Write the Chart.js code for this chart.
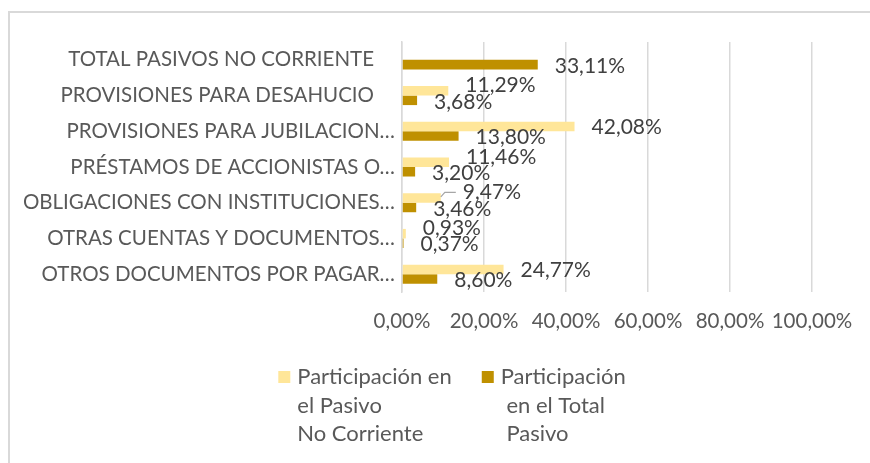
<!DOCTYPE html>
<html lang="es">
<head>
<meta charset="utf-8">
<title>Participación de los Pasivos No Corrientes</title>
<script src="https://cdn.jsdelivr.net/npm/chart.js@4.4.1/dist/chart.umd.min.js"></script>
<style>
  html, body { margin: 0; padding: 0; background: #ffffff; }
  #wrap { position: relative; width: 870px; height: 463px; }
</style>
</head>
<body>
<div id="wrap"><canvas id="chart" width="870" height="463"></canvas></div>
<script>
// Cuentas del pasivo no corriente (orden de arriba hacia abajo)
const categories = [
  "TOTAL PASIVOS NO CORRIENTE    ",
  "PROVISIONES PARA DESAHUCIO    ",
  "PROVISIONES PARA JUBILACION…",
  "PRÉSTAMOS DE ACCIONISTAS O…",
  "OBLIGACIONES CON INSTITUCIONES…",
  "OTRAS CUENTAS Y DOCUMENTOS…",
  "OTROS DOCUMENTOS POR PAGAR…"
];

// Participación en el Pasivo No Corriente (%)
const pasivoNoCorriente = [null, 11.29, 42.08, 11.46, 9.47, 0.93, 24.77];

// Participación en el Total Pasivo (%)
const totalPasivo = [33.11, 3.68, 13.80, 3.20, 3.46, 0.37, 8.60];

// Marcas del eje de valores (%)
const axisTicks = [0, 20, 40, 60, 80, 100];

const seriesNames = [
  "Participación en el Pasivo No Corriente",
  "Participación en el Total Pasivo"
];
const legendLines = [
  ["Participación en", "el Pasivo", "No Corriente"],
  ["Participación", " en el Total", " Pasivo"]
];

const FONT = "Lato, 'Open Sans', sans-serif";
const AXIS_SIZE = 20.5;
const LABEL_SIZE = 21;
const LEGEND_SIZE = 22;
const TEXT = "#595959";
const LABEL_TEXT = "#404040";
const GRID = "#D9D9D9";

const pct = v => v.toFixed(2).replace(".", ",") + "%";

// Ajustes manuales de etiquetas: "dataset:índice"
const labelNudges = { "0:4": { dx: 5, leader: true } };

// Marco del gráfico y fondo
const framePlugin = {
  id: "frame",
  beforeDraw(chart) {
    const ctx = chart.ctx;
    ctx.save();
    ctx.fillStyle = "#ffffff";
    ctx.fillRect(0, 0, chart.width, chart.height);
    ctx.strokeStyle = GRID;
    ctx.lineWidth = 2;
    ctx.beginPath();
    ctx.moveTo(9, chart.height);
    ctx.lineTo(9, 12);
    ctx.lineTo(chart.width, 12);
    ctx.stroke();
    ctx.restore();
  }
};

// Etiquetas de datos al final de cada barra
const valueLabels = {
  id: "valueLabels",
  afterDatasetsDraw(chart) {
    const ctx = chart.ctx;
    ctx.save();
    ctx.font = `${LABEL_SIZE}px ${FONT}`;
    ctx.fillStyle = LABEL_TEXT;
    ctx.textAlign = "left";
    ctx.textBaseline = "middle";
    const gap = 17;
    const m0 = chart.getDatasetMeta(0);
    const m1 = chart.getDatasetMeta(1);
    const n = chart.data.labels.length;
    for (let i = 0; i < n; i++) {
      const v0 = chart.data.datasets[0].data[i];
      const v1 = chart.data.datasets[1].data[i];
      const b0 = m0.data[i], b1 = m1.data[i];
      let x0 = null, x1 = null, y0 = null, y1 = null;
      if (v0 != null) { x0 = b0.x + gap; y0 = b0.y + 1; }
      if (v1 != null) { x1 = b1.x + gap; y1 = b1.y + 1.5; }
      if (v0 != null && v1 != null) {
        const w0 = ctx.measureText(pct(v0)).width;
        const w1 = ctx.measureText(pct(v1)).width;
        const overlap = x0 < x1 + w1 && x1 < x0 + w0;
        if (overlap) y0 = b0.y - 5.5;
      }
      const items = [[0, v0, x0, y0, b0], [1, v1, x1, y1, b1]];
      for (const [d, v, x, y, bar] of items) {
        if (v == null) continue;
        const nudge = labelNudges[d + ":" + i];
        let lx = x, ly = y;
        if (nudge) {
          lx += nudge.dx || 0;
          ly += nudge.dy || 0;
          if (nudge.leader) {
            ctx.save();
            ctx.strokeStyle = "#A6A6A6";
            ctx.lineWidth = 1.2;
            ctx.beginPath();
            ctx.moveTo(bar.x, bar.y - 1);
            ctx.lineTo(bar.x + 4, ly);
            ctx.lineTo(lx - 7, ly);
            ctx.stroke();
            ctx.restore();
          }
        }
        ctx.fillText(pct(v), lx, ly);
      }
    }
    ctx.restore();
  }
};

// Leyenda inferior con texto en varias líneas
const wrappedLegend = {
  id: "wrappedLegend",
  afterDraw(chart, args, opts) {
    const ctx = chart.ctx;
    ctx.save();
    ctx.font = `${LEGEND_SIZE}px ${FONT}`;
    ctx.textBaseline = "middle";
    ctx.textAlign = "left";
    const box = 12, boxGap = 7, itemGap = 30, lineH = 28.5;
    const widths = legendLines.map(lines =>
      box + boxGap + Math.max(...lines.map(l => ctx.measureText(l).width)));
    const total = widths.reduce((a, b) => a + b, 0) + itemGap * (widths.length - 1);
    let x = opts.centerX - total / 2;
    chart.data.datasets.forEach((ds, k) => {
      ctx.fillStyle = ds.backgroundColor;
      ctx.fillRect(x, opts.top - box / 2, box, box);
      ctx.fillStyle = TEXT;
      legendLines[k].forEach((line, j) => {
        ctx.fillText(line, x + box + boxGap, opts.top + j * lineH);
      });
      x += widths[k] + itemGap;
    });
    ctx.restore();
  }
};

new Chart(document.getElementById("chart"), {
  type: "bar",
  data: {
    labels: categories,
    datasets: [
      {
        label: seriesNames[0],
        data: pasivoNoCorriente,
        backgroundColor: "#FFE699",
        categoryPercentage: 0.533,
        barPercentage: 1
      },
      {
        label: seriesNames[1],
        data: totalPasivo,
        backgroundColor: "#BF9000",
        categoryPercentage: 0.533,
        barPercentage: 1
      }
    ]
  },
  options: {
    indexAxis: "y",
    responsive: false,
    animation: false,
    layout: { padding: { left: 10, right: 58, top: 42, bottom: 126 } },
    plugins: {
      legend: { display: false },
      tooltip: { enabled: false },
      wrappedLegend: { centerX: 452, top: 377 }
    },
    scales: {
      x: {
        min: axisTicks[0],
        max: axisTicks[axisTicks.length - 1],
        afterBuildTicks(scale) { scale.ticks = axisTicks.map(v => ({ value: v })); },
        afterFit(scale) { scale.height = 45; },
        ticks: {
          color: TEXT,
          font: { family: FONT, size: AXIS_SIZE },
          padding: 17,
          maxRotation: 0,
          minRotation: 0,
          autoSkip: false,
          callback: v => pct(v)
        },
        grid: { color: GRID, lineWidth: 1.5, drawTicks: false },
        border: { display: false }
      },
      y: {
        afterFit(scale) { scale.width = 392; },
        ticks: {
          color: TEXT,
          font: { family: FONT, size: AXIS_SIZE },
          padding: 7,
          autoSkip: false
        },
        grid: { display: false, drawTicks: false },
        border: { color: GRID, width: 1.5 }
      }
    }
  },
  plugins: [framePlugin, valueLabels, wrappedLegend]
});
</script>
</body>
</html>
